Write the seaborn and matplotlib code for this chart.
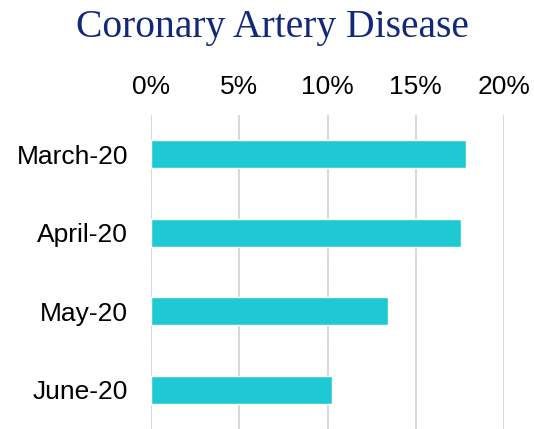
import matplotlib
matplotlib.use("Agg")
import matplotlib.pyplot as plt
import seaborn as sns
import pandas as pd
from matplotlib.ticker import PercentFormatter

# data
months = ["March-20", "April-20", "May-20", "June-20"]
share = [0.1783, 0.1758, 0.1345, 0.1027]

df = pd.DataFrame({"month": months, "share": share})

sns.set_theme(style="white")
plt.rcParams["font.family"] = ["Liberation Sans", "DejaVu Sans"]

fig = plt.figure(figsize=(5.34, 4.29), dpi=100)
ax = fig.add_axes([151 / 534, 0.0, 353 / 534, 314 / 429])

sns.barplot(data=df, x="share", y="month", color="#1FC9D4", saturation=1,
            width=0.355, ax=ax)

ax.set_xlim(0, 0.20)
ax.set_xticks([0, 0.05, 0.10, 0.15, 0.20])
ax.xaxis.set_major_formatter(PercentFormatter(1.0, decimals=0))
ax.xaxis.tick_top()
ax.tick_params(axis="x", length=0, pad=11.5, labelsize=19, labelcolor="black")
ax.tick_params(axis="y", length=0, pad=16.5, labelsize=19, labelcolor="black")
ax.grid(axis="x", color="#D9D9D9", linewidth=1.5)
ax.set_axisbelow(True)
for s in ax.spines.values():
    s.set_visible(False)
ax.set_xlabel("")
ax.set_ylabel("")

fig.text(272 / 534, 1 - 37.5 / 429, "Coronary Artery Disease", ha="center", va="baseline",
         fontsize=28.5, color="#12287A", family=["Liberation Serif", "DejaVu Serif"])

fig.savefig("out.png", dpi=100)
